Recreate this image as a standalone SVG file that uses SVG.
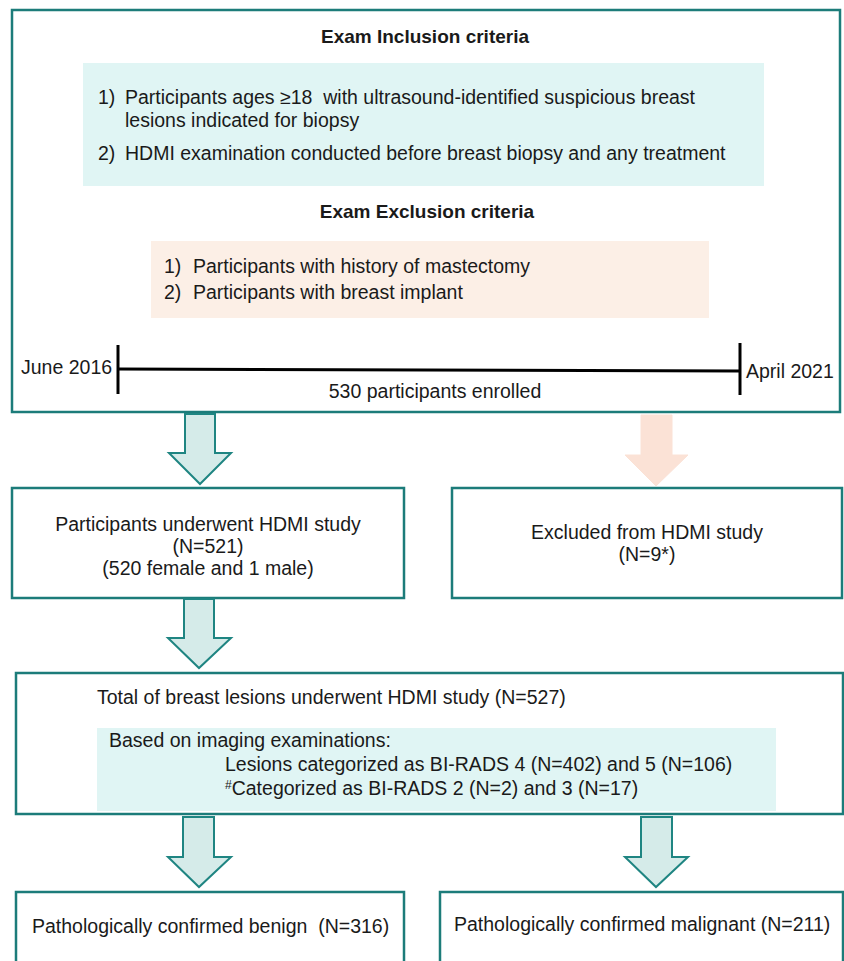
<svg xmlns="http://www.w3.org/2000/svg" width="844" height="961" viewBox="0 0 844 961">
<style>
.box{fill:#ffffff;stroke:#1c7c7a;stroke-width:2.5}
.t{font-family:"Liberation Sans",Arial,sans-serif;font-size:19.5px;fill:#1a1a1a}
.b{font-weight:bold;font-size:19px}
.m{text-anchor:middle}
.arr{fill:#d5ebe9;stroke:#1f8582;stroke-width:2;stroke-linejoin:miter}
.arrp{fill:#fbe2d6;stroke:#fbe2d6;stroke-width:1}
</style>
<rect width="844" height="961" fill="#ffffff"/>
<g id="criteria">
<rect class="box" x="12" y="10" width="828" height="402"/>
<text class="t b m" x="425" y="43">Exam Inclusion criteria</text>
<rect x="83" y="63" width="681" height="123" fill="#e0f5f4"/>
<text class="t" x="98" y="104">1)</text>
<text class="t" x="125" y="104" xml:space="preserve">Participants ages ≥18  with ultrasound-identified suspicious breast</text>
<text class="t" x="125" y="127">lesions indicated for biopsy</text>
<text class="t" x="98" y="160">2)</text>
<text class="t" x="125" y="160">HDMI examination conducted before breast biopsy and any treatment</text>
<text class="t b m" x="427" y="218">Exam Exclusion criteria</text>
<rect x="151" y="241" width="558" height="77" fill="#fcefe6"/>
<text class="t" x="164" y="273">1)</text>
<text class="t" x="193" y="273">Participants with history of mastectomy</text>
<text class="t" x="164" y="299">2)</text>
<text class="t" x="193" y="299">Participants with breast implant</text>
<line x1="118" y1="345" x2="118" y2="394" stroke="#000" stroke-width="3"/>
<line x1="118" y1="369" x2="740" y2="371" stroke="#000" stroke-width="3"/>
<line x1="740" y1="343" x2="740" y2="395" stroke="#000" stroke-width="3"/>
<text class="t" x="21" y="374">June 2016</text>
<text class="t" x="746" y="378">April 2021</text>
<text class="t m" x="435" y="398">530 participants enrolled</text>
</g>
<g id="underwent">
<rect class="box" x="12" y="488" width="392" height="110"/>
<text class="t m" x="208" y="531">Participants underwent HDMI study</text>
<text class="t m" x="208" y="553">(N=521)</text>
<text class="t m" x="208" y="575">(520 female and 1 male)</text>
</g>
<g id="excluded">
<rect class="box" x="452" y="488" width="390" height="110"/>
<text class="t m" x="647" y="539">Excluded from HDMI study</text>
<text class="t m" x="647" y="561">(N=9*)</text>
</g>
<g id="lesions">
<rect class="box" x="16" y="673" width="827" height="141"/>
<text class="t" x="97" y="704">Total of breast lesions underwent HDMI study (N=527)</text>
<rect x="97" y="728" width="679" height="83" fill="#e0f5f4"/>
<text class="t" x="109" y="747">Based on imaging examinations:</text>
<text class="t" x="225" y="771">Lesions categorized as BI-RADS 4 (N=402) and 5 (N=106)</text>
<text class="t" x="225" y="795"><tspan font-size="12" dy="-6">#</tspan><tspan dy="6">Categorized as BI-RADS 2 (N=2) and 3 (N=17)</tspan></text>
</g>
<g id="benign">
<rect class="box" x="16" y="892" width="388" height="80"/>
<text class="t" x="32" y="933" xml:space="preserve">Pathologically confirmed benign  (N=316)</text>
</g>
<g id="malignant">
<rect class="box" x="440" y="892" width="403" height="80"/>
<text class="t" x="454" y="931">Pathologically confirmed malignant (N=211)</text>
</g>
<g id="connectors">
<polygon class="arr" points="185,414 215,414 215,453 231,453 200,484 169,453 185,453"/>
<polygon class="arrp" points="641,415 672,415 672,455 688,455 656,486 625,455 641,455"/>
<polygon class="arr" points="184,599 214,599 214,638 231,638 199,668 168,638 184,638"/>
<polygon class="arr" points="183,817 214,817 214,857 231,857 199,887 168,857 183,857"/>
<polygon class="arr" points="641,817 672,817 672,857 688,857 656,887 625,857 641,857"/>
</g>
</svg>
